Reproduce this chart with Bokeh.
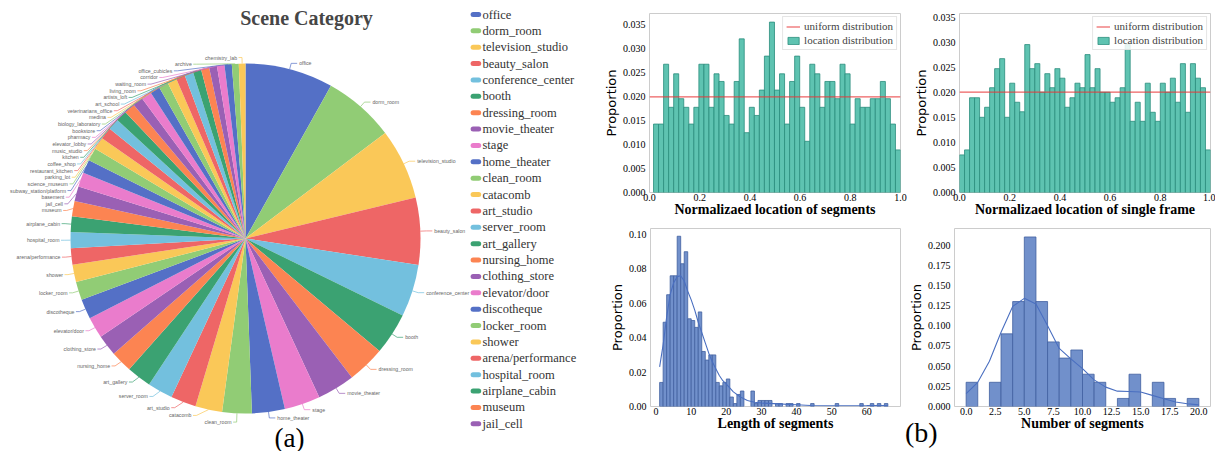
import numpy as np
from bokeh.plotting import figure
from bokeh.layouts import row, column
from bokeh.models import Range1d, FixedTicker, PrintfTickFormatter, Legend, LegendItem, Div
from bokeh.core.properties import value
from bokeh.embed import file_html
from bokeh.resources import INLINE

# ---------------- data ----------------
scene_categories = [
    "office", "dorm_room", "television_studio", "beauty_salon", "conference_center",
    "booth", "dressing_room", "movie_theater", "stage", "home_theater",
    "clean_room", "catacomb", "art_studio", "server_room", "art_gallery",
    "nursing_home", "clothing_store", "elevator/door", "discotheque", "locker_room",
    "shower", "arena/performance", "hospital_room", "airplane_cabin", "museum",
    "jail_cell", "basement", "subway_station/platform", "science_museum", "parking_lot",
    "restaurant_kitchen", "coffee_shop", "kitchen", "music_studio", "elevator_lobby",
    "pharmacy", "bookstore", "biology_laboratory", "medina", "veterinarians_office",
    "art_school", "artists_loft", "living_room", "waiting_room", "corridor",
    "office_cubicles", "archive", "chemistry_lab",
]
scene_values = [
    29.2, 23.7, 23.5, 22.2, 17.4, 13.9, 12.5, 12.5, 11.9, 10.9,
    9.8, 8.9, 8.4, 8.4, 8.2, 7.2, 7.0, 7.0, 6.6, 6.1,
    5.8, 5.4, 5.3, 5.2, 5.1, 4.9, 4.7, 4.5, 4.3, 4.1,
    4.0, 3.8, 3.7, 3.6, 3.5, 3.4, 3.3, 3.2, 3.1, 3.0,
    2.9, 2.8, 2.7, 2.6, 2.5, 2.4, 2.3, 2.2,
]
legend_count = 26

# normalized location of segments (49 bins from 0.016 to 1.0)
seg_loc_start = 0.016
seg_loc_end = 1.0
seg_loc_prop = [
    0.0143, 0.0143, 0.0268, 0.0178, 0.0248, 0.0196, 0.0178, 0.0143, 0.0178, 0.0268,
    0.0268, 0.0178, 0.0248, 0.0232, 0.0161, 0.0143, 0.0232, 0.0321, 0.0125, 0.0178,
    0.0161, 0.0214, 0.0285, 0.0356, 0.0214, 0.0248, 0.0143, 0.0232, 0.0285, 0.0178,
    0.0107, 0.0268, 0.0248, 0.0178, 0.0232, 0.0232, 0.0196, 0.0268, 0.0248, 0.0143,
    0.0196, 0.0178, 0.0178, 0.0196, 0.0196, 0.0232, 0.0196, 0.0143, 0.0089,
]
# normalized location of single frame (50 bins from 0 to 1)
frame_loc_start = 0.0
frame_loc_end = 1.0
frame_loc_prop = [
    0.0075, 0.0085, 0.0189, 0.0189, 0.0150, 0.0170, 0.0209, 0.0247, 0.0267, 0.0150,
    0.0218, 0.0180, 0.0161, 0.0295, 0.0247, 0.0257, 0.0200, 0.0237, 0.0209, 0.0247,
    0.0228, 0.0170, 0.0189, 0.0218, 0.0209, 0.0275, 0.0209, 0.0247, 0.0200, 0.0200,
    0.0180, 0.0189, 0.0209, 0.0295, 0.0142, 0.0180, 0.0142, 0.0218, 0.0160, 0.0142,
    0.0218, 0.0200, 0.0228, 0.0180, 0.0257, 0.0160, 0.0257, 0.0228, 0.0209, 0.0085,
]
uniform_prop = 0.02

# length of segments (bins of width 1 from 1 to 66)
length_start = 1
length_prop = [
    0.014, 0.049, 0.065, 0.076, 0.076, 0.099, 0.083, 0.090, 0.051, 0.050,
    0.046, 0.055, 0.032, 0.027, 0.030, 0.030, 0.014, 0.012, 0.014, 0.016,
    0.0055, 0.0017, 0.007, 0.009, 0, 0, 0.009, 0.0017, 0.0035, 0.0035,
    0.0035, 0.0035, 0, 0.0017, 0.0017, 0, 0.0017, 0.0017, 0, 0.0017,
    0, 0, 0, 0.0017, 0, 0, 0, 0, 0, 0,
    0.0017, 0, 0, 0, 0, 0, 0, 0.0017, 0, 0,
    0.0017, 0, 0.0017, 0, 0.0017,
]
length_kde_x = [1, 2, 3, 4, 5, 6, 7, 8, 9, 10, 11, 12, 13, 14, 15, 16, 17, 18, 19, 20,
                22, 24, 26, 28, 30, 32, 35, 38, 40, 44, 48, 52, 56, 60, 63, 66]
length_kde_y = [0.023, 0.036, 0.052, 0.065, 0.072, 0.0755, 0.076, 0.073, 0.067, 0.062,
                0.056, 0.049, 0.043, 0.037, 0.031, 0.026, 0.022, 0.018, 0.015, 0.013,
                0.0085, 0.0055, 0.0035, 0.0025, 0.002, 0.0018, 0.0015, 0.0012, 0.001, 0.0006,
                0.0004, 0.0004, 0.0004, 0.0005, 0.0006, 0.0005]

# number of segments (bins of width 1 from 0 to 20)
number_start = 0
number_prop = [0.03, 0, 0.03, 0.09, 0.13, 0.21, 0.13, 0.08, 0.06, 0.07,
               0.04, 0.03, 0, 0.01, 0.04, 0, 0.03, 0.01, 0, 0.01]
number_kde_x = [0, 1, 2, 3, 4, 5, 6, 7, 8, 9, 10, 11, 12, 13, 14, 15, 16, 17, 18, 19, 20]
number_kde_y = [0.016, 0.030, 0.056, 0.092, 0.124, 0.134, 0.127, 0.100, 0.072, 0.059,
                0.047, 0.033, 0.024, 0.019, 0.0185, 0.018, 0.0138, 0.0095, 0.0055, 0.0035, 0.002]

# tick labels
loc_xticks = [0.0, 0.2, 0.4, 0.6, 0.8, 1.0]
loc_yticks = [0.0, 0.005, 0.010, 0.015, 0.020, 0.025, 0.030, 0.035]
len_xticks = [0, 10, 20, 30, 40, 50, 60]
len_yticks = [0.0, 0.02, 0.04, 0.06, 0.08, 0.10]
num_xticks = [0.0, 2.5, 5.0, 7.5, 10.0, 12.5, 15.0, 17.5, 20.0]
num_yticks = [0.0, 0.025, 0.05, 0.075, 0.10, 0.125, 0.15, 0.175, 0.20]

palette = ['#5470c6', '#91cc75', '#fac858', '#ee6666', '#73c0de',
           '#3ba272', '#fc8452', '#9a60b4', '#ea7ccc']

SERIF = "Liberation Serif"
SANS = "Liberation Sans"

# ---------------- pie (a) ----------------
PAGE_H = 451
PW, PH = 600, 451


def Y(py):
    return PAGE_H - py


pie = figure(width=PW, height=PH, x_range=Range1d(0, PW), y_range=Range1d(0, PH),
             output_backend="svg", toolbar_location=None,
             x_axis_location=None, y_axis_location=None,
             min_border=0, outline_line_color=None)
pie.grid.grid_line_color = None

n = len(scene_values)
colors = [palette[i % len(palette)] for i in range(n)]
vals = np.array(scene_values, float)
deg = vals / vals.sum() * 360.0
c1 = np.cumsum(deg)
c0 = c1 - deg

CX, CY, RAD = 245.0, 238.0, 175.0
pie.wedge(x=CX, y=Y(CY), radius=RAD,
          start_angle=list(np.radians(90.0 - c0)), end_angle=list(np.radians(90.0 - c1)),
          direction="clock", fill_color=colors, line_color=None)

# label layout (echarts-like outside labels, with overlap shifting and
# re-alignment of shifted labels on an ellipse)
mid = np.radians((c0 + c1) / 2.0)
R1 = RAD + 6.0
LH = 6.65
px0 = CX + RAD * np.sin(mid)
py0 = CY - RAD * np.cos(mid)
ndx = R1 * np.sin(mid)
ny = CY - R1 * np.cos(mid)
is_right = np.degrees(mid) < 180.0
lx = CX + ndx
ly = ny.copy()
for side in (True, False):
    idx = [i for i in range(n) if is_right[i] == side]
    idx.sort(key=lambda i: ny[i])
    prev = -1e9
    adjusted = False
    for i in idx:
        yy = max(ny[i], prev + LH)
        if yy != ny[i]:
            adjusted = True
        ly[i] = yy
        prev = yy
    if not adjusted:
        continue
    sgn = 1 if side else -1
    for bottom in (False, True):
        members = [i for i in idx if (ly[i] > CY) == bottom]
        if not members:
            continue
        j = max(members, key=lambda i: abs(ly[i] - CY))
        dyj = abs(ly[j] - CY)
        dxj = ndx[j]
        rB = dyj / np.sqrt(1 - dxj ** 2 / R1 ** 2) if abs(dxj) < R1 else R1
        for i in members:
            dyi = abs(ly[i] - CY)
            lx[i] = CX + sgn * R1 * np.sqrt(max(0.0, 1 - dyi ** 2 / rB ** 2))

SEG2 = {True: 6.0, False: 3.5}
GAP = {True: 2.0, False: 1.5}
xs, ys = [], []
for i in range(n):
    s = bool(is_right[i])
    sgn = 1 if s else -1
    xs.append([px0[i], lx[i], lx[i] + sgn * SEG2[s]])
    ys.append([Y(py0[i]), Y(ly[i]), Y(ly[i])])
pie.multi_line(xs=xs, ys=ys, line_color=colors, line_width=0.7)

for side, align in ((True, "left"), (False, "right")):
    ids = [i for i in range(n) if is_right[i] == side]
    sgn = 1 if side else -1
    pie.text(x=[lx[i] + sgn * (SEG2[side] + GAP[side]) for i in ids], y=[Y(ly[i]) for i in ids],
             text=[scene_categories[i] for i in ids],
             text_align=align, text_baseline="middle",
             text_font=value(SANS), text_font_size=value("5.2px"), text_color="#666666")

# title
pie.text(x=[306], y=[Y(17.5)], text=["Scene Category"], text_align="center",
         text_baseline="middle", text_font=value(SERIF), text_font_style="bold",
         text_font_size=value("20px"), text_color="#464646")

# legend (first entries)
leg_y = [Y(14 + 16.37 * i) for i in range(legend_count)]
pie.segment(x0=472.6, y0=leg_y, x1=478.2, y1=leg_y, line_color=colors[:legend_count],
            line_width=5, line_cap="round")
pie.text(x=482, y=leg_y, text=scene_categories[:legend_count], text_align="left",
         text_baseline="middle", text_font=value(SERIF), text_font_size=value("12.5px"),
         text_color="#333333")

pie.text(x=[289], y=[Y(437)], text=["(a)"], text_align="center", text_baseline="middle",
         text_font=value(SERIF), text_font_size=value("27px"), text_color="#000000")


# ---------------- histograms (b) ----------------
def hist_fig(width, height, xr, yr, bl, br, bt, bb, xticks, xfmt, yticks, yfmt, xlabel):
    p = figure(width=width, height=height, x_range=Range1d(*xr), y_range=Range1d(*yr),
               output_backend="svg", toolbar_location=None,
               min_border_left=bl, min_border_right=br, min_border_top=bt, min_border_bottom=bb)
    p.grid.grid_line_color = None
    p.outline_line_color = "#cccccc"
    p.outline_line_width = 1
    for ax in (p.xaxis[0], p.yaxis[0]):
        ax.axis_line_color = None
        ax.major_tick_line_color = None
        ax.minor_tick_line_color = None
        ax.major_tick_in = 0
        ax.major_tick_out = 0
        ax.minor_tick_in = 0
        ax.minor_tick_out = 0
        ax.major_label_text_font = SERIF
        ax.major_label_text_font_size = "10px"
        ax.major_label_text_color = "#000000"
    p.xaxis.ticker = FixedTicker(ticks=xticks)
    p.xaxis.formatter = PrintfTickFormatter(format=xfmt)
    p.yaxis.ticker = FixedTicker(ticks=yticks)
    p.yaxis.formatter = PrintfTickFormatter(format=yfmt)
    p.xaxis.major_label_standoff = 1
    p.yaxis.major_label_standoff = 4
    p.xaxis.axis_label = xlabel
    p.xaxis.axis_label_text_font = SERIF
    p.xaxis.axis_label_text_font_style = "bold"
    p.xaxis.axis_label_text_font_size = "14px"
    p.xaxis.axis_label_text_color = "#000000"
    p.xaxis.axis_label_standoff = -2
    p.yaxis.axis_label = "Proportion"
    p.yaxis.axis_label_text_font = "DejaVu Sans"
    p.yaxis.axis_label_text_font_style = "normal"
    p.yaxis.axis_label_text_font_size = "13px"
    p.yaxis.axis_label_text_color = "#000000"
    p.yaxis.axis_label_standoff = 1
    return p


def add_bars(p, edges, props, fill, line):
    edges = np.asarray(edges, float)
    props = np.asarray(props, float)
    keep = props > 0
    return p.quad(left=edges[:-1][keep], right=edges[1:][keep], bottom=0, top=props[keep],
                  fill_color=fill, line_color=line, line_width=0.8)


def add_loc_legend(p, r_line, r_bars):
    lg = Legend(items=[LegendItem(label="uniform distribution", renderers=[r_line]),
                       LegendItem(label="location distribution", renderers=[r_bars])],
                location="top_right", margin=3, padding=3, spacing=2,
                label_height=10, glyph_height=9, glyph_width=14, label_standoff=4,
                label_width=20,
                label_text_font=SERIF, label_text_font_size="11px",
                border_line_color="#cccccc", border_line_width=1,
                background_fill_alpha=0.85)
    p.add_layout(lg)


TEAL_FILL, TEAL_LINE = "#5ec3b1", "#2a8d7c"
BLUE_FILL, BLUE_LINE = "#7190cb", "#40609f"
RED = "#e8393b"

# top-left
h1 = hist_fig(310, 223, (0.0, 1.0), (0.0, 0.0374), 46, 10, 10, 31,
              loc_xticks, "%.1f", loc_yticks, "%.3f", "Normalizaed location of segments")
e1 = np.linspace(seg_loc_start, seg_loc_end, len(seg_loc_prop) + 1)
rb1 = add_bars(h1, e1, seg_loc_prop, TEAL_FILL, TEAL_LINE)
rl1 = h1.line(x=[h1.x_range.start, h1.x_range.end], y=[uniform_prop, uniform_prop],
              line_color=RED, line_alpha=0.8, line_width=1.2)
add_loc_legend(h1, rl1, rb1)

# top-right
h2 = hist_fig(305, 223, (0.0, 1.0), (0.0, 0.0357), 46, 5, 13, 31,
              loc_xticks, "%.1f", loc_yticks, "%.3f", "Normalizaed location of single frame")
e2 = np.linspace(frame_loc_start, frame_loc_end, len(frame_loc_prop) + 1)
rb2 = add_bars(h2, e2, frame_loc_prop, TEAL_FILL, TEAL_LINE)
rl2 = h2.line(x=[h2.x_range.start, h2.x_range.end], y=[uniform_prop, uniform_prop],
              line_color=RED, line_alpha=0.8, line_width=1.2)
add_loc_legend(h2, rl2, rb2)

# bottom-left
h3 = hist_fig(305, 228, (-1.6, 69.6), (0.0, 0.1035), 50, 5, 5, 45,
              len_xticks, "%d", len_yticks, "%.2f", "Length of segments")
e3 = length_start + np.arange(len(length_prop) + 1)
add_bars(h3, e3, length_prop, BLUE_FILL, BLUE_LINE)
h3.line(x=length_kde_x, y=length_kde_y, line_color="#4a6fc0", line_width=1.1)

# bottom-right
h4 = hist_fig(310, 228, (-1.0, 21.0), (0.0, 0.2205), 48, 5, 5, 45,
              num_xticks, "%.1f", num_yticks, "%.3f", "Number of segments")
e4 = number_start + np.arange(len(number_prop) + 1)
add_bars(h4, e4, number_prop, BLUE_FILL, BLUE_LINE)
h4.line(x=number_kde_x, y=number_kde_y, line_color="#4a6fc0", line_width=1.1)

label_b = Div(text="(b)", styles={"position": "absolute", "left": "905px", "top": "419px",
                                  "font-family": "Liberation Serif", "font-size": "28px",
                                  "line-height": "1", "color": "#000000",
                                  "margin": "0", "padding": "0"})

layout = row(pie, column(row(h1, h2), row(h3, h4)), label_b)

open("out.html", "w").write(file_html(layout, INLINE, title="Scene Category"))
